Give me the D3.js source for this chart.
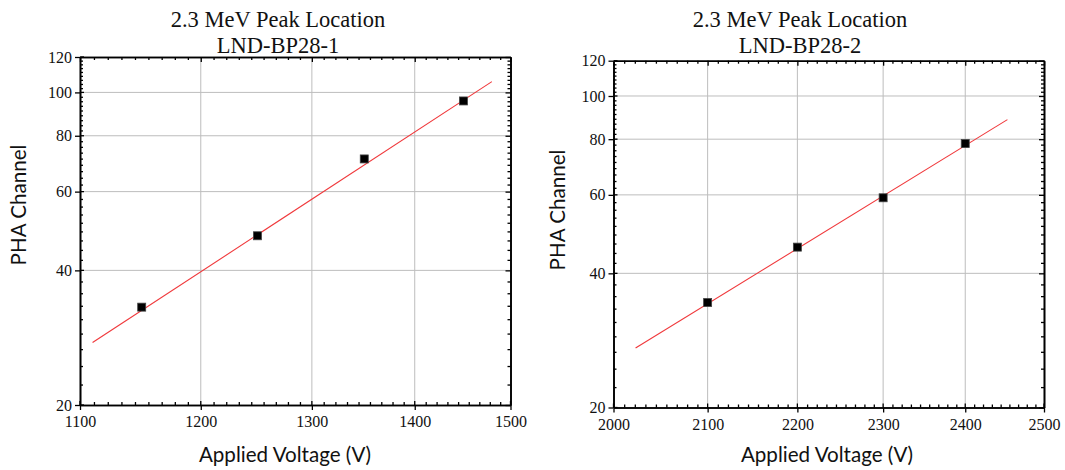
<!DOCTYPE html>
<html><head><meta charset="utf-8">
<script src="https://cdn.jsdelivr.net/npm/d3@7"></script>
<style>
html,body{margin:0;padding:0;background:#fff;}
svg{display:block;}
</style></head>
<body>
<svg id="chart" width="1065" height="470"></svg>
<script>
// ---- data ----
const titleLine1 = "2.3 MeV Peak Location";
const panelNames = ["LND-BP28-1", "LND-BP28-2"];
const xAxisLabel = "Applied Voltage (V)";
const yAxisLabel = "PHA Channel";

const voltages1 = [1150, 1250, 1350, 1450];
const channels1 = [33.1, 47.8, 71.0, 95.7];
const fitVoltages1 = [1110, 1480];
const fitChannels1 = [27.6, 105.7];
const xTicks1 = [1100, 1200, 1300, 1400, 1500];

const voltages2 = [2100, 2200, 2300, 2400];
const channels2 = [34.4, 45.8, 59.1, 78.2];
const fitVoltages2 = [2023, 2453];
const fitChannels2 = [27.2, 88.5];
const xTicks2 = [2000, 2100, 2200, 2300, 2400, 2500];

const yTicks = [20, 40, 60, 80, 100, 120];

// ---- layout ----
const panels = [
  {name: panelNames[0], vx: voltages1, vy: channels1, fx: fitVoltages1, fy: fitChannels1, xt: xTicks1,
   left: 80, right: 510.5, top: 57, bottom: 405, titleX: 278, xLabelX: 285, yLabelX: 26, yLabelY: 205},
  {name: panelNames[1], vx: voltages2, vy: channels2, fx: fitVoltages2, fy: fitChannels2, xt: xTicks2,
   left: 613.5, right: 1044, top: 60.7, bottom: 407.5, titleX: 800, xLabelX: 827, yLabelX: 565, yLabelY: 210}
];

const svg = d3.select("#chart");
const serif = "'Liberation Serif','Times New Roman',serif";
const sans = "Lato,'Open Sans',sans-serif";

function minorValues(ticks) {
  const out = [];
  for (let i = 0; i < ticks.length - 1; i++) {
    const a = ticks[i], b = ticks[i + 1];
    for (let k = 1; k <= 8; k++) out.push(a + (b - a) * k / 9);
  }
  return out;
}

panels.forEach(p => {
  const x = d3.scaleLog().domain([p.xt[0], p.xt[p.xt.length - 1]]).range([p.left, p.right]);
  const y = d3.scaleLog().domain([yTicks[0], yTicks[yTicks.length - 1]]).range([p.bottom, p.top]);
  const g = svg.append("g");

  // grid
  g.selectAll(".gx").data(p.xt.slice(1, -1)).enter().append("line")
    .attr("x1", d => x(d)).attr("x2", d => x(d)).attr("y1", p.top).attr("y2", p.bottom)
    .attr("stroke", "#bdbdbd").attr("stroke-width", 1);
  g.selectAll(".gy").data(yTicks.slice(1, -1)).enter().append("line")
    .attr("y1", d => y(d)).attr("y2", d => y(d)).attr("x1", p.left).attr("x2", p.right)
    .attr("stroke", "#bdbdbd").attr("stroke-width", 1);

  // axes
  const bottomAxis = d3.axisBottom(x).tickValues(p.xt).tickFormat(d3.format("d")).tickSizeInner(5).tickSizeOuter(0).tickPadding(6);
  const leftAxis = d3.axisLeft(y).tickValues(yTicks).tickFormat(d3.format("d")).tickSizeInner(5).tickSizeOuter(0).tickPadding(3);
  const topAxis = d3.axisTop(x).tickValues(p.xt).tickFormat("").tickSizeInner(-5).tickSizeOuter(0);
  const rightAxis = d3.axisRight(y).tickValues(yTicks).tickFormat("").tickSizeInner(-5).tickSizeOuter(0);
  const bottomMinor = d3.axisBottom(x).tickValues(minorValues(p.xt)).tickFormat("").tickSizeInner(-3).tickSizeOuter(0);
  const topMinor = d3.axisTop(x).tickValues(minorValues(p.xt)).tickFormat("").tickSizeInner(-3).tickSizeOuter(0);
  const leftMinor = d3.axisLeft(y).tickValues(minorValues(yTicks)).tickFormat("").tickSizeInner(-3).tickSizeOuter(0);
  const rightMinor = d3.axisRight(y).tickValues(minorValues(yTicks)).tickFormat("").tickSizeInner(-3).tickSizeOuter(0);

  const axes = [
    [bottomAxis, `translate(0,${p.bottom})`], [bottomMinor, `translate(0,${p.bottom})`],
    [topAxis, `translate(0,${p.top})`], [topMinor, `translate(0,${p.top})`],
    [leftAxis, `translate(${p.left},0)`], [leftMinor, `translate(${p.left},0)`],
    [rightAxis, `translate(${p.right},0)`], [rightMinor, `translate(${p.right},0)`]
  ];
  axes.forEach(([ax, tr]) => {
    const a = g.append("g").attr("transform", tr).call(ax);
    a.select(".domain").attr("stroke", "#000").attr("stroke-width", 1.6);
    a.selectAll(".tick line").attr("stroke", "#000").attr("stroke-width", 1.3);
    a.selectAll(".tick text").attr("fill", "#111").style("font-family", serif).style("font-size", "16px");
  });
  // inner extension of major ticks on bottom/left
  g.selectAll(".mxi").data(p.xt).enter().append("line")
    .attr("x1", d => x(d)).attr("x2", d => x(d)).attr("y1", p.bottom).attr("y2", p.bottom - 4)
    .attr("stroke", "#000").attr("stroke-width", 1.3);
  g.selectAll(".myi").data(yTicks).enter().append("line")
    .attr("y1", d => y(d)).attr("y2", d => y(d)).attr("x1", p.left).attr("x2", p.left + 4)
    .attr("stroke", "#000").attr("stroke-width", 1.3);

  // fit line
  const fitData = p.fx.map((v, i) => [v, p.fy[i]]);
  g.append("path").datum(fitData)
    .attr("d", d3.line().x(d => x(d[0])).y(d => y(d[1])))
    .attr("fill", "none").attr("stroke", "#f0393c").attr("stroke-width", 1.1);

  // points
  const pts = p.vx.map((v, i) => [v, p.vy[i]]);
  const s = 8;
  g.selectAll(".pt").data(pts).enter().append("rect")
    .attr("x", d => x(d[0]) - s / 2).attr("y", d => y(d[1]) - s / 2)
    .attr("width", s).attr("height", s)
    .attr("fill", "#000").attr("stroke", "#444").attr("stroke-width", 0.8);

  // titles
  g.append("text").attr("x", p.titleX).attr("y", 26.5).attr("text-anchor", "middle")
    .style("font-family", serif).style("font-size", "22.5px").attr("fill", "#111").text(titleLine1);
  g.append("text").attr("x", p.titleX).attr("y", 53).attr("text-anchor", "middle")
    .style("font-family", serif).style("font-size", "22.5px").attr("fill", "#111").text(p.name);

  // axis labels
  g.append("text").attr("x", p.xLabelX).attr("y", 462).attr("text-anchor", "middle")
    .style("font-family", sans).style("font-size", "20.6px").attr("fill", "#111").text(xAxisLabel);
  g.append("text").attr("transform", `translate(${p.yLabelX},${p.yLabelY}) rotate(-90)`)
    .attr("text-anchor", "middle")
    .style("font-family", sans).style("font-size", "20.6px").attr("fill", "#111").text(yAxisLabel);
});
</script>
</body></html>
